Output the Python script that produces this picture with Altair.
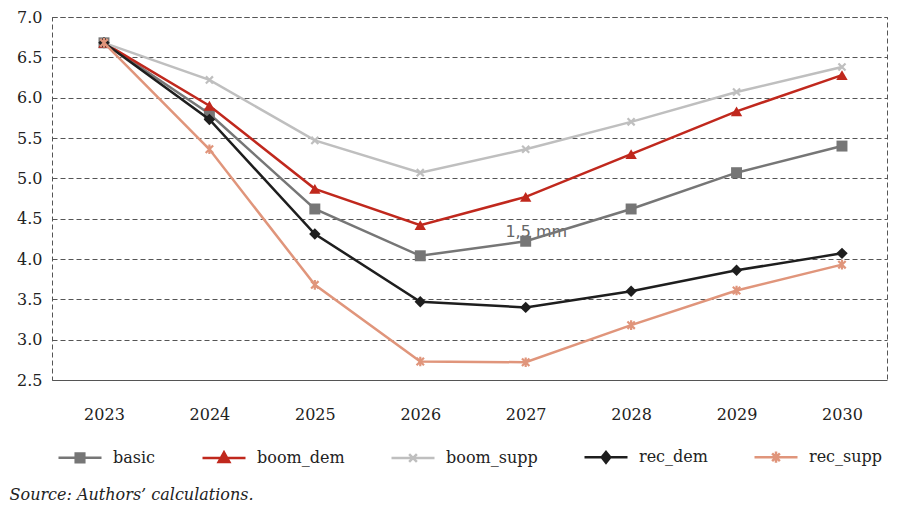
import altair as alt
import pandas as pd

years = [2023, 2024, 2025, 2026, 2027, 2028, 2029, 2030]
series = ["basic", "boom_dem", "boom_supp", "rec_dem", "rec_supp"]
basic = [6.68, 5.80, 4.62, 4.04, 4.22, 4.62, 5.07, 5.40]
boom_dem = [6.68, 5.90, 4.87, 4.42, 4.77, 5.30, 5.83, 6.28]
boom_supp = [6.68, 6.22, 5.47, 5.07, 5.36, 5.70, 6.07, 6.38]
rec_dem = [6.68, 5.73, 4.31, 3.47, 3.40, 3.60, 3.86, 4.07]
rec_supp = [6.68, 5.36, 3.68, 2.73, 2.72, 3.18, 3.61, 3.93]
values = [basic, boom_dem, boom_supp, rec_dem, rec_supp]

colors = ["#767676", "#C0281D", "#BFBFBF", "#1E1E1E", "#E0957B"]
y_ticks = [2.5, 3.0, 3.5, 4.0, 4.5, 5.0, 5.5, 6.0, 6.5, 7.0]
note_text = ["1,5 mm"]
note_x = [2027.1]
note_y = [4.34]
source_text = "Source: Authors\u2019 calculations."

rows = []
for s, vals in zip(series, values):
    for yr, v in zip(years, vals):
        rows.append({"year": yr, "series": s, "value": v})
df = pd.DataFrame(rows)
note_df = pd.DataFrame({"x": note_x, "y": note_y, "t": note_text})

SERIF = "DejaVu Serif"

xs = alt.Scale(domain=[2022.507, 2030.427], nice=False, zero=False)
ys = alt.Scale(domain=[2.5, 7.0], nice=False, zero=False)
xenc = alt.X("year:Q", scale=xs, title=None,
             axis=alt.Axis(values=years, format="d", grid=False, domain=False,
                           ticks=False, labelPadding=26, labelFont=SERIF,
                           labelFontSize=16, labelColor="#222"))
yenc = alt.Y("value:Q", scale=ys, title=None,
             axis=alt.Axis(values=y_ticks, format=".1f", grid=True, gridDash=[5, 3],
                           gridColor="#555", gridWidth=1, domain=False, ticks=False,
                           labelPadding=10, labelFont=SERIF, labelFontSize=16,
                           labelColor="#222"))

marker_shapes = {
    "basic": ("square", True, 120),
    "boom_dem": ("triangle-up", True, 130),
    "boom_supp": ("M-1,-1L1,1M-1,1L1,-1", False, 50),
    "rec_dem": ("diamond", True, 130),
    "rec_supp": ("M-1,-1L1,1M-1,1L1,-1M0,-1.3L0,1.3", False, 55),
}

legend_paths = [
    "M-1,0L1,0M-0.2,-0.2L0.2,-0.2L0.2,0.2L-0.2,0.2Z",
    "M-1,0L1,0M0,-0.27L0.25,0.18L-0.25,0.18Z",
    "M-1,0L1,0M-0.18,-0.18L0.18,0.18M-0.18,0.18L0.18,-0.18",
    "M-1,0L1,0M0,-0.25L0.2,0L0,0.25L-0.2,0Z",
    "M-1,0L1,0M-0.18,-0.18L0.18,0.18M-0.18,0.18L0.18,-0.18M0,-0.26L0,0.26",
]

base = alt.Chart(df)

note = alt.Chart(note_df).mark_text(font="DejaVu Sans", fontSize=16, color="#666").encode(
    x=alt.X("x:Q", scale=xs), y=alt.Y("y:Q", scale=ys), text="t:N")

layers = [note]
for s, c in zip(series, colors):
    shp, filled, size = marker_shapes[s]
    sub = base.transform_filter(alt.datum.series == s)
    layers.append(sub.mark_line(strokeWidth=2.5, color=c).encode(x=xenc, y=yenc))
    if filled:
        pt = sub.mark_point(shape=shp, filled=True, size=size, color=c, opacity=1)
    else:
        pt = sub.mark_point(shape=shp, filled=False, size=size, color=c, opacity=1,
                            strokeWidth=2.2)
    layers.append(pt.encode(x=xenc, y=yenc))

legend_layer = base.transform_filter("false").mark_point(
    filled=True, opacity=1, strokeWidth=2.5).encode(
    x=xenc, y=yenc,
    fill=alt.Fill("series:N", scale=alt.Scale(domain=series, range=colors),
                  legend=alt.Legend(title=None, orient="none", legendX=5, legendY=417,
                                    direction="horizontal", columns=5,
                                    symbolSize=1849, symbolStrokeWidth=2.5,
                                    labelFont=SERIF, labelFontSize=16,
                                    labelColor="#222", labelOffset=10,
                                    columnPadding=41, padding=0)),
    stroke=alt.Stroke("series:N", scale=alt.Scale(domain=series, range=colors)),
    shape=alt.Shape("series:N", scale=alt.Scale(domain=series, range=legend_paths)),
)
layers.append(legend_layer)

chart = alt.layer(*layers).properties(
    width=835, height=363,
    padding={"left": 1, "top": 1, "right": 5, "bottom": 5},
    title=alt.TitleParams(source_text, orient="bottom", anchor="start", frame="bounds",
                          font=SERIF, fontSize=16, fontStyle="italic",
                          fontWeight="normal", color="#222", offset=19, dx=-7),
).configure_view(stroke="#555", strokeDash=[5, 3], strokeWidth=1)

chart.save("out.html", embed_options={"renderer": "svg", "actions": False})
